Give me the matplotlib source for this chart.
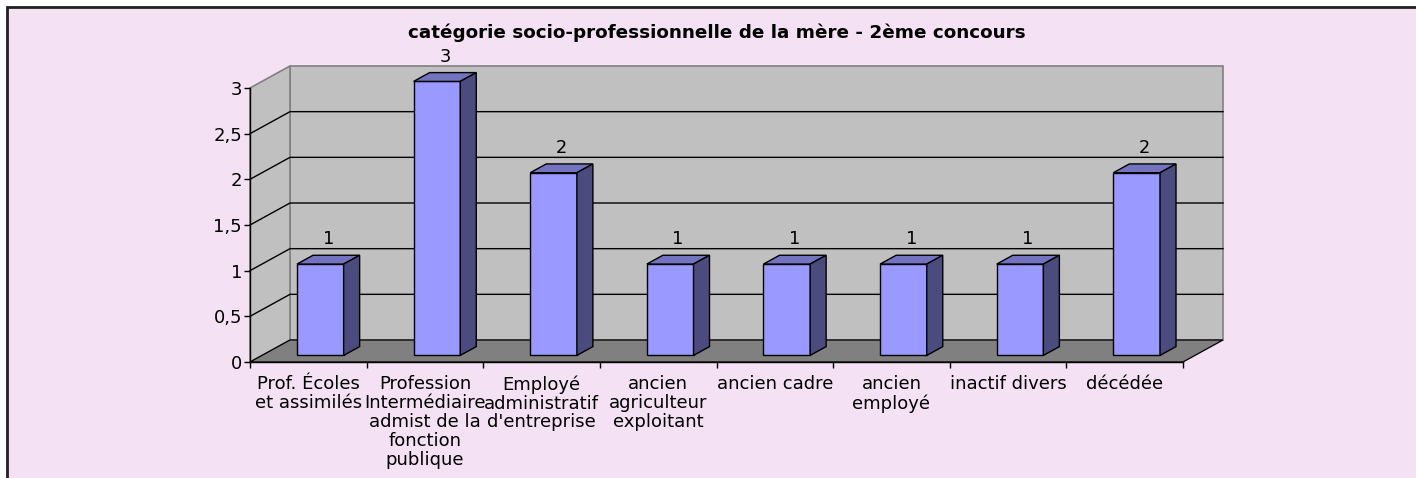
import numpy as np
import matplotlib
matplotlib.use('Agg')  # no display
import matplotlib.pyplot as plt
from matplotlib.patches import Polygon, Rectangle

# chart data
categories = [
    "Prof. Écoles\net assimilés",
    "Profession\nIntermédiaire\nadmist de la\nfonction\npublique",
    "Employé\nadministratif\nd'entreprise",
    "ancien\nagriculteur\nexploitant",
    "ancien cadre",
    "ancien\nemployé",
    "inactif divers",
    "décédée",
]
values = [1, 3, 2, 1, 1, 1, 1, 2]
y_ticks = [0, 0.5, 1, 1.5, 2, 2.5, 3]
y_tick_labels = ["0", "0,5", "1", "1,5", "2", "2,5", "3"]
title = "catégorie socio-professionnelle de la mère - 2ème concours"

W, H = 1416, 478
plt.rcParams['font.family'] = ['DejaVu Sans']

fig = plt.figure(figsize=(W / 100, H / 100), dpi=100, facecolor='white')

# pink chart area with dark border (top and left edges visible)
fig.patches.append(Rectangle((6.5 / W, -0.1), 1.2, 1.1 - 6.5 / H,
                             transform=fig.transFigure, facecolor='#F4E1F3',
                             edgecolor='#202020', linewidth=2, zorder=-10))

ax = fig.add_axes([250 / W, (H - 362) / H, 933 / W, 274 / H])
n = len(values)
ymax = y_ticks[-1]
ax.set_xlim(0, n)
ax.set_ylim(0, ymax)
ax.patch.set_visible(False)
for s in ['top', 'right']:
    ax.spines[s].set_visible(False)
for s in ['left', 'bottom']:
    ax.spines[s].set_color('black')
    ax.spines[s].set_linewidth(1)
    ax.spines[s].set_zorder(6)

# depth of the fake 3D box, in data units
DX = 40 / 933 * n
DY = 22 / 274 * ymax

wall_grey = '#C0C0C0'
edge_grey = '#808080'
ax.add_patch(Polygon([(DX, DY), (n + DX, DY), (n + DX, ymax + DY), (DX, ymax + DY)],
                     closed=True, facecolor=wall_grey, edgecolor=edge_grey,
                     linewidth=1.2, clip_on=False, zorder=1))
ax.add_patch(Polygon([(0, 0), (DX, DY), (DX, ymax + DY), (0, ymax)],
                     closed=True, facecolor=wall_grey, edgecolor=edge_grey,
                     linewidth=1.2, clip_on=False, zorder=1))
ax.add_patch(Polygon([(0, 0), (n, 0), (n + DX, DY), (DX, DY)],
                     closed=True, facecolor='#808080', edgecolor='black',
                     linewidth=0.9, clip_on=False, zorder=2))

# gridlines on back and side walls
for yv in y_ticks[1:-1]:
    ax.plot([0, DX, n + DX], [yv, yv + DY, yv + DY], color='black',
            linewidth=1, clip_on=False, zorder=1.5)

# bars: front face with ax.bar, then top and side faces
f = 0.3   # front offset of the bars into the depth
bd = 0.4  # bar depth as part of the box depth
bar_w = 0.4
x_pos = np.arange(n) + 0.5 + f * DX
bars = ax.bar(x_pos, values, width=bar_w, bottom=f * DY, color='#9999FF',
              edgecolor='black', linewidth=1, zorder=4, clip_on=False)
bdx, bdy = bd * DX, bd * DY
for bar, v in zip(bars, values):
    x0 = bar.get_x()
    x1 = x0 + bar.get_width()
    y0 = bar.get_y()
    y1 = y0 + bar.get_height()
    ax.add_patch(Polygon([(x0, y1), (x1, y1), (x1 + bdx, y1 + bdy), (x0 + bdx, y1 + bdy)],
                         closed=True, facecolor='#7373C0', edgecolor='black',
                         linewidth=1, clip_on=False, zorder=4))
    ax.add_patch(Polygon([(x1, y0), (x1 + bdx, y0 + bdy), (x1 + bdx, y1 + bdy), (x1, y1)],
                         closed=True, facecolor='#4B4B7E', edgecolor='black',
                         linewidth=1, clip_on=False, zorder=4))
    ax.annotate(str(v), (x0 + bar.get_width() / 2 + bdx / 2, y1 + bdy),
                xytext=(0, 11), textcoords='offset pixels', ha='center',
                va='baseline', fontsize=12.8, color='black', annotation_clip=False)

# axes ticks
ax.set_yticks(y_ticks, y_tick_labels)
ax.tick_params(axis='y', direction='out', length=4.3, width=1, pad=1.5,
               labelsize=13, colors='black')
ax.set_xticks(np.arange(n) + 0.5, categories)
ax.set_xticks(np.arange(n + 1), minor=True)
ax.tick_params(axis='x', which='major', length=0, pad=9.5, labelsize=13)
ax.tick_params(axis='x', which='minor', direction='out', length=4.3, width=1,
               colors='black')
for lab in ax.get_xticklabels():
    lab.set_linespacing(1.06)
    lab.set_multialignment('center')

fig.text(716.5 / W, 1 - 38.5 / H, title, ha='center', va='baseline',
         fontsize=13.25, fontweight='bold', color='black')

fig.savefig('out.png', dpi=100, facecolor=fig.get_facecolor())
plt.close(fig)
